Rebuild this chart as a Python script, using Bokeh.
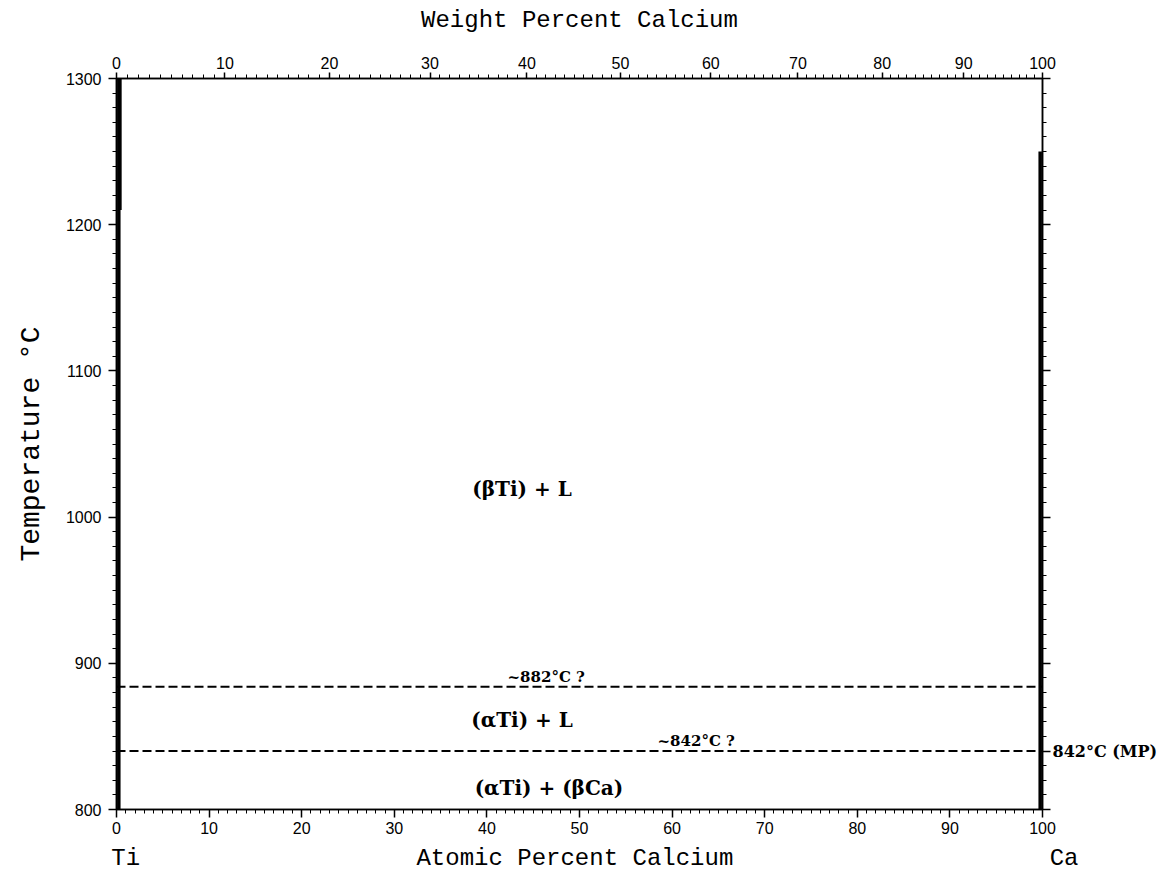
from bokeh.plotting import figure
from bokeh.models import LinearAxis, FixedTicker, Range1d
from bokeh.core.properties import value
from bokeh.embed import file_html
from bokeh.resources import INLINE

# ---- data ----
at_ticks = [0, 10, 20, 30, 40, 50, 60, 70, 80, 90, 100]
wt_ticks = [0, 10, 20, 30, 40, 50, 60, 70, 80, 90, 100]
temp_ticks = [800, 900, 1000, 1100, 1200, 1300]
M_TI = 47.867
M_CA = 40.078

iso_T = [884, 840]            # drawn positions of the two horizontal (dashed) isotherms
iso_labels = ["~882°C ?", "~842°C ?"]
iso_label_x = [46.4, 62.6]

ti_side_x = [0.25, 0.25]
ti_side_T = [800, 1300]
ti_side2_x = [0.45, 0.45]
ti_side2_T = [1210, 1300]
ca_side_x = [99.75, 99.75]
ca_side_T = [800, 1250]

phase_x = [43.8, 43.8, 46.7]
phase_T = [1019, 861, 815]
phase_text = ["(βTi) + L", "(αTi) + L", "(αTi) + (βCa)"]

ca_mp_T = 840
ca_mp_text = "842°C (MP)"

end_label_x = [1.0, 49.5, 100.0]
end_label_text = ["Ti", "Atomic Percent Calcium", "\u00a0\u00a0\u00a0Ca"]


def wt_to_at(w):
    return 100.0 * (w / M_CA) / (w / M_CA + (100.0 - w) / M_TI)


p = figure(width=1162, height=876, output_backend="svg", toolbar_location=None,
           x_range=Range1d(0, 100), y_range=Range1d(800, 1300),
           x_axis_location=None, y_axis_location=None,
           min_border_left=116, min_border_right=120, min_border_top=78, min_border_bottom=67)
p.grid.visible = False
p.outline_line_color = "black"
p.outline_line_width = 1.5
p.background_fill_color = "white"
p.border_fill_color = "white"

mono = "Liberation Mono"
sans = "Liberation Sans"
serif_b = "DejaVu Serif"


def style_axis(ax, label_size="16px"):
    ax.axis_line_color = "black"
    ax.axis_line_width = 1.5
    ax.major_tick_line_color = "black"
    ax.minor_tick_line_color = "black"
    ax.major_tick_line_width = 1.5
    ax.minor_tick_line_width = 1
    ax.major_tick_in = 0
    ax.minor_tick_in = 0
    ax.major_tick_out = 8
    ax.minor_tick_out = 4
    ax.major_label_text_font = sans
    ax.major_label_text_font_size = label_size
    ax.major_label_text_color = "black"
    ax.major_label_standoff = 4
    ax.axis_label_text_font = mono
    ax.axis_label_text_font_style = "normal"
    ax.axis_label_text_font_size = "24px"
    ax.axis_label_text_color = "black"


# bottom axis: atomic percent
bottom = LinearAxis(ticker=FixedTicker(ticks=at_ticks, minor_ticks=list(range(0, 101))))
style_axis(bottom)
p.add_layout(bottom, "below")

# second bottom row: Ti / axis title / Ca
names = LinearAxis(ticker=FixedTicker(ticks=end_label_x, minor_ticks=[]),
                   major_label_overrides={x: t for x, t in zip(end_label_x, end_label_text)})
names.axis_line_color = None
names.major_tick_line_color = None
names.minor_tick_line_color = None
names.major_tick_out = 0
names.major_tick_in = 0
names.major_label_standoff = 8
names.major_label_text_font = mono
names.major_label_text_font_size = "24px"
names.major_label_text_color = "black"
p.add_layout(names, "below")

# top axis: weight percent
wt_pos = [wt_to_at(w) for w in wt_ticks]
wt_minor = [wt_to_at(w) for w in range(0, 101)]
top = LinearAxis(axis_label="Weight Percent Calcium",
                 ticker=FixedTicker(ticks=wt_pos, minor_ticks=wt_minor),
                 major_label_overrides={pos: str(w) for pos, w in zip(wt_pos, wt_ticks)})
style_axis(top)
top.major_tick_out = 6
top.axis_label_standoff = 20
p.add_layout(top, "above")

# left axis: temperature
left = LinearAxis(axis_label="Temperature °C",
                  ticker=FixedTicker(ticks=temp_ticks, minor_ticks=list(range(800, 1301, 10))))
style_axis(left)
left.major_label_standoff = 7
left.axis_label_standoff = 16
left.axis_label_text_font_size = "28px"
p.add_layout(left, "left")

# right axis: ticks only, plus the Ca melting point note
right_ticks = temp_ticks + [ca_mp_T]
right = LinearAxis(ticker=FixedTicker(ticks=right_ticks, minor_ticks=list(range(800, 1301, 10))),
                   major_label_overrides={t: "" for t in temp_ticks} | {ca_mp_T: ca_mp_text})
style_axis(right)
right.major_label_text_font = serif_b
right.major_label_text_font_style = "bold"
right.major_label_text_font_size = "16px"
right.major_label_standoff = 2
p.add_layout(right, "right")

# boundary lines at the pure-element sides
p.line(ti_side_x, ti_side_T, line_color="black", line_width=3.5)
p.line(ti_side2_x, ti_side2_T, line_color="black", line_width=2)
p.line(ca_side_x, ca_side_T, line_color="black", line_width=3.5)

# dashed isotherms
for T in iso_T:
    p.line([0, 100], [T, T], line_color="black", line_width=2, line_dash="9 4")

p.text(x=iso_label_x, y=[t + 0.8 for t in iso_T], text=iso_labels,
       text_font=value(serif_b), text_font_style="bold", text_font_size="15px",
       text_align="center", text_baseline="bottom", text_color="black")

# phase-field labels
p.text(x=phase_x, y=phase_T, text=phase_text,
       text_font=value(serif_b), text_font_style="bold", text_font_size="20px",
       text_align="center", text_baseline="middle", text_color="black")

open("out.html", "w").write(file_html(p, INLINE))
